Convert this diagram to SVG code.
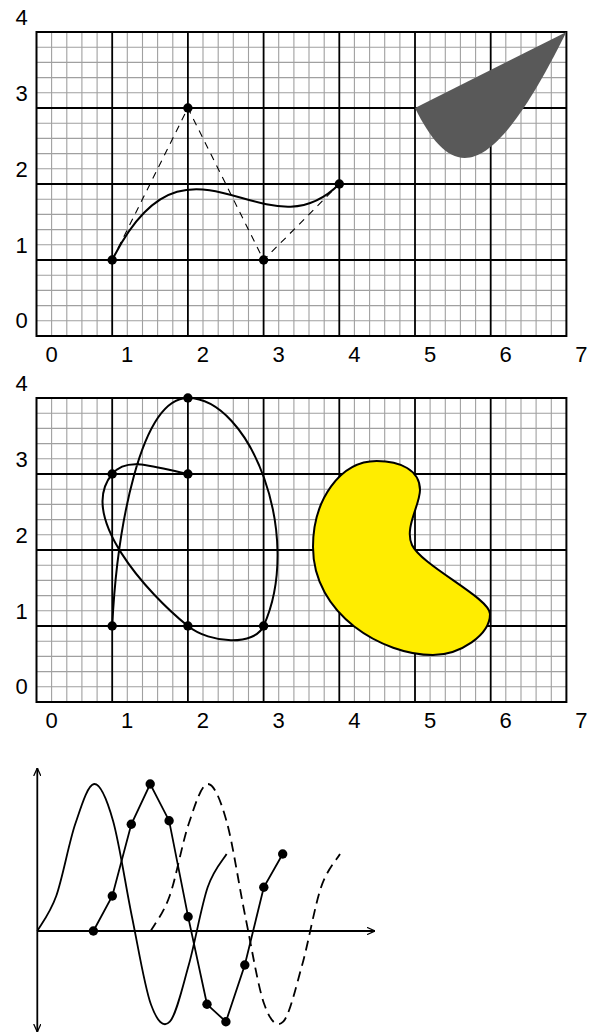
<svg xmlns="http://www.w3.org/2000/svg" xmlns:xlink="http://www.w3.org/1999/xlink" width="594" height="1036" viewBox="0 0 594 1036">
<style>
.minor{fill:none;stroke:#a0a0a0;stroke-width:1.1}
.major{fill:none;stroke:#000;stroke-width:1.8}
.frame{fill:none;stroke:#000;stroke-width:2}
.lbl{font-family:"Liberation Sans",Arial,sans-serif;font-size:22px;fill:#000;text-anchor:middle}
.curve{fill:none;stroke:#000;stroke-width:2}
.thin{fill:none;stroke:#000;stroke-width:1.8}
.dash{fill:none;stroke:#000;stroke-width:1.1;stroke-dasharray:7 6}
.dash2{fill:none;stroke:#000;stroke-width:1.8;stroke-dasharray:10 6}
.dot{fill:#000}
.axis{fill:none;stroke:#000;stroke-width:1.8}
</style>
<defs>
<marker id="ah" viewBox="0 0 10 10" refX="10" refY="5" markerWidth="8" markerHeight="8" markerUnits="userSpaceOnUse" orient="auto-start-reverse">
<path d="M0,0.5 L10,5 L0,9.5" fill="none" stroke="#000" stroke-width="1.6"/>
</marker>
<g id="grid">
<path class="minor" d="M51.6,32V336M66.8,32V336M81.9,32V336M97.1,32V336M127.3,32V336M142.5,32V336M157.6,32V336M172.8,32V336M203,32V336M218.2,32V336M233.3,32V336M248.5,32V336M278.7,32V336M293.9,32V336M309,32V336M324.2,32V336M354.4,32V336M369.6,32V336M384.7,32V336M399.9,32V336M430.1,32V336M445.3,32V336M460.4,32V336M475.6,32V336M505.8,32V336M521,32V336M536.1,32V336M551.3,32V336M36.5,47.2H566.4M36.5,62.4H566.4M36.5,77.6H566.4M36.5,92.8H566.4M36.5,123.2H566.4M36.5,138.4H566.4M36.5,153.6H566.4M36.5,168.8H566.4M36.5,199.2H566.4M36.5,214.4H566.4M36.5,229.6H566.4M36.5,244.8H566.4M36.5,275.2H566.4M36.5,290.4H566.4M36.5,305.6H566.4M36.5,320.8H566.4"/>
<path class="major" d="M112.2,32V336M187.9,32V336M263.6,32V336M339.3,32V336M415,32V336M490.7,32V336M36.5,108H566.4M36.5,184H566.4M36.5,260H566.4"/>
<rect class="frame" x="36.5" y="32" width="529.9" height="304"/>
<text class="lbl" x="21.5" y="25">4</text>
<text class="lbl" x="21.5" y="101">3</text>
<text class="lbl" x="21.5" y="177">2</text>
<text class="lbl" x="21.5" y="253">1</text>
<text class="lbl" x="21.5" y="328">0</text>
<text class="lbl" x="51.5" y="362">0</text>
<text class="lbl" x="127.2" y="362">1</text>
<text class="lbl" x="202.9" y="362">2</text>
<text class="lbl" x="278.6" y="362">3</text>
<text class="lbl" x="354.3" y="362">4</text>
<text class="lbl" x="430" y="362">5</text>
<text class="lbl" x="505.7" y="362">6</text>
<text class="lbl" x="581.4" y="362">7</text>
</g>
<path id="wave" d="M0,931 C3.16,925.17 12.62,913.78 18.93,896 C25.24,878.22 31.55,842.97 37.86,824.3 C44.17,805.63 50.48,784.6 56.79,784 C63.1,783.4 69.41,798.58 75.72,820.7 C82.03,842.82 88.34,886.1 94.65,916.7 C100.96,947.3 107.27,986.8 113.58,1004.3 C119.89,1021.8 126.2,1028.25 132.51,1021.7 C138.82,1015.15 145.13,987.4 151.44,965 C157.75,942.6 164.06,905.8 170.37,887.3 C176.68,868.8 186.14,859.55 189.3,854"/>
</defs>

<g id="panel1">
<use xlink:href="#grid"/>
<g id="bezier-shape">
<path d="M415,108 C452.9,184 490.7,184 566.4,32 Z" fill="#595959"/>
</g>
<g id="bezier-curve">
<path class="dash" d="M112.2,260 L187.9,108 L263.6,260 L339.3,184"/>
<path class="curve" d="M112.2,260 C187.9,108 263.6,260 339.3,184"/>
<circle class="dot" cx="112.2" cy="260" r="4.7"/>
<circle class="dot" cx="187.9" cy="108" r="4.7"/>
<circle class="dot" cx="263.6" cy="260" r="4.7"/>
<circle class="dot" cx="339.3" cy="184" r="4.7"/>
</g>
</g>

<g id="panel2">
<use xlink:href="#grid" y="366"/>
<g id="closed-curve">
<path d="M376.7,461 C400,461 420,470 420,490 C420,505 404,528 412,545 C422,566 490,598 490,614 C490,635 460,655 433,655 C383,655 313,615 313,547 C313,500 340,461 376.7,461 Z" fill="#ffed00" stroke="#000" stroke-width="2"/>
</g>
<g id="open-curve">
<path class="curve" d="M112.2,626 C117,530 140,398 187.9,398 C250,398 304,536 263.6,626 C254.6,646 210.5,644 187.9,626 C146.9,593 77.2,516 112.2,474 C127.2,456 152.9,467 187.9,474"/>
<circle class="dot" cx="112.2" cy="626" r="4.7"/>
<circle class="dot" cx="187.9" cy="398" r="4.7"/>
<circle class="dot" cx="263.6" cy="626" r="4.7"/>
<circle class="dot" cx="187.9" cy="626" r="4.7"/>
<circle class="dot" cx="112.2" cy="474" r="4.7"/>
<circle class="dot" cx="187.9" cy="474" r="4.7"/>
</g>
</g>

<g id="panel3">
<g id="axes">
<path class="axis" d="M37.3,931 H375" marker-end="url(#ah)"/>
<path class="axis" d="M37.3,768 V1032" marker-start="url(#ah)" marker-end="url(#ah)"/>
</g>
<g id="solid-curve">
<use xlink:href="#wave" class="thin" transform="translate(37.3,0)"/>
</g>
<g id="dashed-curve">
<use xlink:href="#wave" class="dash2" transform="translate(150.7,0)"/>
</g>
<g id="polyline">
<path class="thin" d="M93.4,931 L112.3,896 L131.3,824.3 L150.2,784 L169.1,820.7 L188.1,916.7 L207,1004.3 L225.9,1021.7 L244.8,965 L263.8,887.3 L282.7,854"/>
<circle class="dot" cx="93.4" cy="931" r="4.7"/>
<circle class="dot" cx="112.3" cy="896" r="4.7"/>
<circle class="dot" cx="131.3" cy="824.3" r="4.7"/>
<circle class="dot" cx="150.2" cy="784" r="4.7"/>
<circle class="dot" cx="169.1" cy="820.7" r="4.7"/>
<circle class="dot" cx="188.1" cy="916.7" r="4.7"/>
<circle class="dot" cx="207" cy="1004.3" r="4.7"/>
<circle class="dot" cx="225.9" cy="1021.7" r="4.7"/>
<circle class="dot" cx="244.8" cy="965" r="4.7"/>
<circle class="dot" cx="263.8" cy="887.3" r="4.7"/>
<circle class="dot" cx="282.7" cy="854" r="4.7"/>
</g>
</g>
</svg>
